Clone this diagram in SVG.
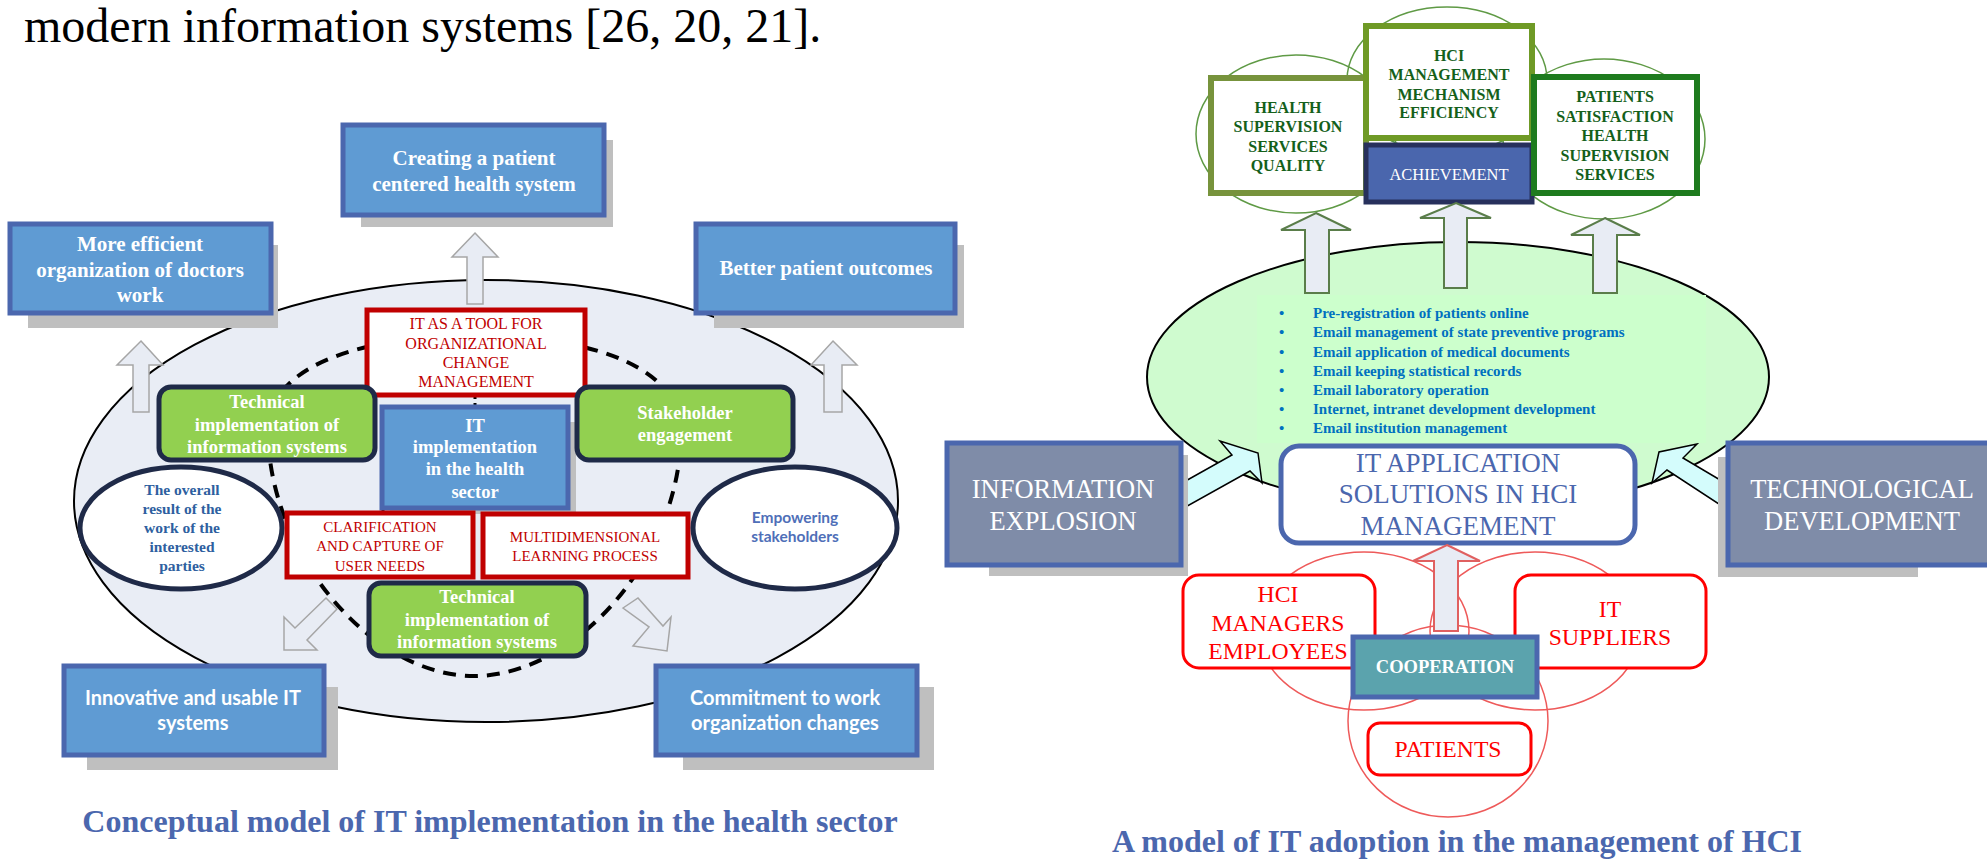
<svg xmlns="http://www.w3.org/2000/svg" width="1987" height="861" viewBox="0 0 1987 861">
<style>
.serif{font-family:'Liberation Serif','Times New Roman',serif}
.sans{font-family:Lato,'Liberation Sans',sans-serif}
.bbox{fill:#5f9bd3;stroke:#4b67ae;stroke-width:5}
.shadow{fill:#bfbfbf}
.gbox{fill:#92d050;stroke:#1f2a48;stroke-width:5}
.rbox{fill:#fff;stroke:#c00000;stroke-width:5}
.nav{fill:#fff;stroke:#1f2a48;stroke-width:5}
.upa{fill:#e8ecf4;stroke:#a6a6a6;stroke-width:1.5}
.wb{fill:#fff;font-weight:bold;text-anchor:middle}
.rt{fill:#c00000;text-anchor:middle;font-size:15px}
.gt{fill:#14601a;font-weight:bold;text-anchor:middle;font-size:16px}
.gcirc{fill:none;stroke:#5f9a45;stroke-width:1.5}
.rcirc{fill:none;stroke:#ee5a5a;stroke-width:1.5}
.garr{fill:#e8ecf4;stroke:#5a7d4a;stroke-width:2}
.cyan{fill:#d4fcfc;stroke:#000;stroke-width:1.5}
.red{fill:#fff;stroke:#ff0000;stroke-width:3}
.redt{fill:#ff0000;text-anchor:middle;font-size:23.7px}
.list{fill:#0070c0;font-weight:bold;font-size:15px}
.cap{fill:#4b67ae;font-weight:bold;font-size:32px;text-anchor:middle}
.gray{fill:#7f8ca8;stroke:#4b67ae;stroke-width:5}
.wt{fill:#fff;text-anchor:middle;font-size:26.5px}
</style>

<text class="serif" x="24" y="42" font-size="48" fill="#000">modern information systems [26, 20, 21].</text>

<!-- LEFT DIAGRAM -->
<g id="main-ellipse">
<ellipse cx="486" cy="501" rx="412" ry="221" fill="#e9edf5" stroke="#000" stroke-width="2"/>
</g>

<g id="connectors-left">
<path d="M476,336 C603,336 681,372 681,432 C681,554 578,676 474,676 C371,676 268,553 268,430 C268,372 347,336 476,336 Z" fill="none" stroke="#000" stroke-width="4" stroke-dasharray="13 9"/>
<line x1="475" y1="395" x2="475" y2="407" stroke="#000" stroke-width="3" stroke-dasharray="4 4"/>
<line x1="383" y1="508" x2="383" y2="514" stroke="#000" stroke-width="3"/>
<line x1="469" y1="508" x2="469" y2="514" stroke="#000" stroke-width="3"/>
<line x1="485" y1="508" x2="485" y2="514" stroke="#000" stroke-width="3"/>
<line x1="568" y1="508" x2="568" y2="514" stroke="#000" stroke-width="3"/>
<polygon class="upa" points="475,233 498,257 483,257 483,304 467,304 467,257 452,257"/>
<polygon class="upa" points="141,341 163,365 149,365 149,412 133,412 133,365 117,365"/>
<polygon class="upa" points="833,341 857,365 842,365 842,412 824,412 824,365 811,365"/>
<polygon class="upa" points="337,609 326,598 295,628 284,617 284,650 317,650 307,640"/>
<polygon class="upa" points="623,608 638,598 663,626 671,617 667,651 633,646 649,627"/>
</g>

<g id="more-efficient">
<rect class="shadow" x="28" y="245" width="250" height="83"/>
<rect class="bbox" x="10" y="224" width="261" height="89"/>
<text class="serif wb" font-size="21"><tspan x="140" y="251">More efficient</tspan><tspan x="140" y="277">organization of doctors</tspan><tspan x="140" y="302">work</tspan></text>
</g>

<g id="patient-centered">
<rect class="shadow" x="361" y="140" width="252" height="87"/>
<rect class="bbox" x="343" y="125" width="261" height="90"/>
<text class="serif wb" font-size="21"><tspan x="474" y="165">Creating a patient</tspan><tspan x="474" y="191">centered health system</tspan></text>
</g>

<g id="better-outcomes">
<rect class="shadow" x="714" y="245" width="250" height="83"/>
<rect class="bbox" x="696" y="224" width="259" height="89"/>
<text class="serif wb" font-size="21" x="826" y="275">Better patient outcomes</text>
</g>

<g id="it-tool">
<rect class="rbox" x="367" y="310" width="218" height="85"/>
<text class="serif rt" font-size="16"><tspan x="476" y="329" font-size="16">IT AS A TOOL FOR</tspan><tspan x="476" y="349" font-size="16">ORGANIZATIONAL</tspan><tspan x="476" y="368" font-size="16">CHANGE</tspan><tspan x="476" y="387" font-size="16">MANAGEMENT</tspan></text>
</g>

<g id="technical-top">
<rect class="gbox" x="159" y="387" width="216" height="73" rx="12"/>
<text class="serif wb" font-size="18.5"><tspan x="267" y="408">Technical</tspan><tspan x="267" y="431">implementation of</tspan><tspan x="267" y="453">information systems</tspan></text>
</g>

<g id="it-implementation">
<rect class="shadow" x="390" y="422" width="186" height="92"/>
<rect class="bbox" x="382" y="407" width="186" height="101"/>
<text class="serif wb" font-size="18.5"><tspan x="475" y="432">IT</tspan><tspan x="475" y="453">implementation</tspan><tspan x="475" y="475">in the health</tspan><tspan x="475" y="498">sector</tspan></text>
</g>

<g id="stakeholder-engagement">
<rect class="gbox" x="577" y="387" width="216" height="73" rx="12"/>
<text class="serif wb" font-size="18.5"><tspan x="685" y="419">Stakeholder</tspan><tspan x="685" y="441">engagement</tspan></text>
</g>

<g id="overall-result">
<ellipse class="nav" cx="181" cy="528" rx="101" ry="61"/>
<text class="serif" font-size="15.5" font-weight="bold" fill="#2e5fa0" text-anchor="middle"><tspan x="182" y="495">The overall</tspan><tspan x="182" y="514">result of the</tspan><tspan x="182" y="533">work of the</tspan><tspan x="182" y="552">interested</tspan><tspan x="182" y="571">parties</tspan></text>
</g>

<g id="clarification">
<rect class="rbox" x="287" y="513" width="186" height="64"/>
<text class="serif rt"><tspan x="380" y="532">CLARIFICATION</tspan><tspan x="380" y="551">AND CAPTURE OF</tspan><tspan x="380" y="571">USER NEEDS</tspan></text>
</g>

<g id="multidimensional">
<rect class="rbox" x="483" y="514" width="205" height="63"/>
<text class="serif rt"><tspan x="585" y="542">MULTIDIMENSIONAL</tspan><tspan x="585" y="561">LEARNING PROCESS</tspan></text>
</g>

<g id="technical-bottom">
<rect class="gbox" x="369" y="583" width="217" height="73" rx="12"/>
<text class="serif wb" font-size="18.5"><tspan x="477" y="603">Technical</tspan><tspan x="477" y="626">implementation of</tspan><tspan x="477" y="648">information systems</tspan></text>
</g>

<g id="empowering">
<ellipse class="nav" cx="795" cy="528" rx="102" ry="61"/>
<text class="sans" font-size="15.5" font-weight="bold" fill="#4f6fb8" text-anchor="middle"><tspan x="795" y="523">Empowering</tspan><tspan x="795" y="542">stakeholders</tspan></text>
</g>

<g id="innovative">
<rect class="shadow" x="87" y="687" width="251" height="83"/>
<rect class="bbox" x="64" y="666" width="260" height="89"/>
<text class="sans wb" font-size="20"><tspan x="193" y="705">Innovative and usable IT</tspan><tspan x="193" y="730">systems</tspan></text>
</g>

<g id="commitment">
<rect class="shadow" x="683" y="687" width="251" height="83"/>
<rect class="bbox" x="656" y="666" width="261" height="89"/>
<text class="sans wb" font-size="20"><tspan x="785" y="705">Commitment to work</tspan><tspan x="785" y="730">organization changes</tspan></text>
</g>

<text class="serif cap" x="490" y="832">Conceptual model of IT implementation in the health sector</text>

<!-- RIGHT DIAGRAM -->
<g id="achievement-circles">
<ellipse class="gcirc" cx="1296" cy="134" rx="100" ry="79"/>
<ellipse class="gcirc" cx="1447" cy="80" rx="100" ry="73"/>
<ellipse class="gcirc" cx="1604" cy="139" rx="101" ry="80"/>
</g>

<g id="services-quality">
<rect x="1211" y="78" width="155" height="115" fill="#fff" stroke="#77933c" stroke-width="6"/>
<text class="serif gt"><tspan x="1288" y="113">HEALTH</tspan><tspan x="1288" y="132">SUPERVISION</tspan><tspan x="1288" y="152">SERVICES</tspan><tspan x="1288" y="171">QUALITY</tspan></text>
</g>

<g id="mechanism-efficiency">
<rect x="1366" y="26" width="166" height="112" fill="#fff" stroke="#6f9a26" stroke-width="6"/>
<text class="serif gt"><tspan x="1449" y="61">HCI</tspan><tspan x="1449" y="80">MANAGEMENT</tspan><tspan x="1449" y="100">MECHANISM</tspan><tspan x="1449" y="118">EFFICIENCY</tspan></text>
</g>

<g id="achievement">
<rect x="1366" y="145" width="166" height="57" fill="#4a66ad" stroke="#27305c" stroke-width="5"/>
<text class="serif" x="1449" y="180" font-size="16.5" fill="#fff" text-anchor="middle">ACHIEVEMENT</text>
</g>

<g id="patients-satisfaction">
<rect x="1534" y="77" width="163" height="116" fill="#fff" stroke="#1e7b1e" stroke-width="6"/>
<text class="serif gt"><tspan x="1615" y="102">PATIENTS</tspan><tspan x="1615" y="122">SATISFACTION</tspan><tspan x="1615" y="141">HEALTH</tspan><tspan x="1615" y="161">SUPERVISION</tspan><tspan x="1615" y="180">SERVICES</tspan></text>
</g>

<g id="it-solutions-list">
<ellipse cx="1458" cy="377" rx="311" ry="135" fill="#cffbcf" stroke="#000" stroke-width="2"/>
</g>

<g id="connectors-right">
<polygon class="garr" points="1316,213 1351,230 1329,230 1329,293 1305,293 1305,230 1281,230"/>
<polygon class="garr" points="1456,203 1491,218 1467,218 1467,288 1444,288 1444,218 1420,218"/>
<polygon class="garr" points="1605,218 1640,235 1617,235 1617,293 1593,293 1593,235 1571,235"/>
<polygon class="cyan" points="1182,483 1232,455 1220,441 1258,453 1262,483 1250,471 1182,509"/>
<polygon class="cyan" points="1728,510 1667,470 1652,483 1659,452 1697,444 1683,458 1727,484"/>
</g>

<g id="list">
<rect x="1257" y="295" width="449" height="148" fill="#ccffcc"/>
<g class="serif list">
<text x="1279" y="318">•</text><text x="1313" y="318">Pre-registration of patients online</text>
<text x="1279" y="337">•</text><text x="1313" y="337">Email management of state preventive programs</text>
<text x="1279" y="357">•</text><text x="1313" y="357">Email application of medical documents</text>
<text x="1279" y="376">•</text><text x="1313" y="376">Email keeping statistical records</text>
<text x="1279" y="395">•</text><text x="1313" y="395">Email laboratory operation</text>
<text x="1279" y="414">•</text><text x="1313" y="414">Internet, intranet development development</text>
<text x="1279" y="433">•</text><text x="1313" y="433">Email institution management</text>
</g>
</g>

<g id="it-application">
<rect x="1281" y="446" width="354" height="97" rx="18" fill="#fff" stroke="#4b67ae" stroke-width="5"/>
<text class="serif" font-size="27" fill="#4b67ae" text-anchor="middle"><tspan x="1458" y="472">IT APPLICATION</tspan><tspan x="1458" y="503">SOLUTIONS IN HCI</tspan><tspan x="1458" y="535">MANAGEMENT</tspan></text>
</g>

<g id="information-explosion">
<rect class="shadow" x="989" y="455" width="199" height="121"/>
<rect class="gray" x="947" y="443" width="234" height="122"/>
<text class="serif wt"><tspan x="1063" y="498">INFORMATION</tspan><tspan x="1063" y="530">EXPLOSION</tspan></text>
</g>

<g id="technological-development">
<rect class="shadow" x="1718" y="457" width="200" height="120"/>
<rect class="gray" x="1728" y="443" width="270" height="122"/>
<text class="serif wt"><tspan x="1862" y="498">TECHNOLOGICAL</tspan><tspan x="1862" y="530">DEVELOPMENT</tspan></text>
</g>

<g id="cooperation-circles">
<ellipse class="rcirc" cx="1364" cy="631" rx="105" ry="79"/>
<ellipse class="rcirc" cx="1535" cy="631" rx="105" ry="79"/>
<ellipse class="rcirc" cx="1448" cy="721" rx="100" ry="96"/>
</g>

<g id="hci-managers">
<rect class="red" x="1183" y="575" width="192" height="93" rx="16"/>
<text class="serif redt"><tspan x="1278" y="602">HCI</tspan><tspan x="1278" y="631">MANAGERS</tspan><tspan x="1278" y="659">EMPLOYEES</tspan></text>
</g>

<g id="it-suppliers">
<rect class="red" x="1515" y="575" width="191" height="93" rx="16"/>
<text class="serif redt"><tspan x="1610" y="617">IT</tspan><tspan x="1610" y="645">SUPPLIERS</tspan></text>
</g>

<g id="cooperation-arrow">
<polygon points="1447,545 1480,561 1458,561 1458,631 1434,631 1434,561 1413,561" fill="#e8ecf4" stroke="#e06060" stroke-width="2"/>
</g>

<g id="cooperation">
<rect x="1353" y="637" width="184" height="60" fill="#5ba3ad" stroke="#4b67ae" stroke-width="5"/>
<text class="serif" x="1445" y="673" font-size="18.5" font-weight="bold" fill="#fff" text-anchor="middle">COOPERATION</text>
</g>

<g id="patients">
<rect class="red" x="1368" y="723" width="163" height="52" rx="12"/>
<text class="serif redt" x="1448" y="757">PATIENTS</text>
</g>

<text class="serif cap" x="1457" y="852">A model of IT adoption in the management of HCI</text>
</svg>
